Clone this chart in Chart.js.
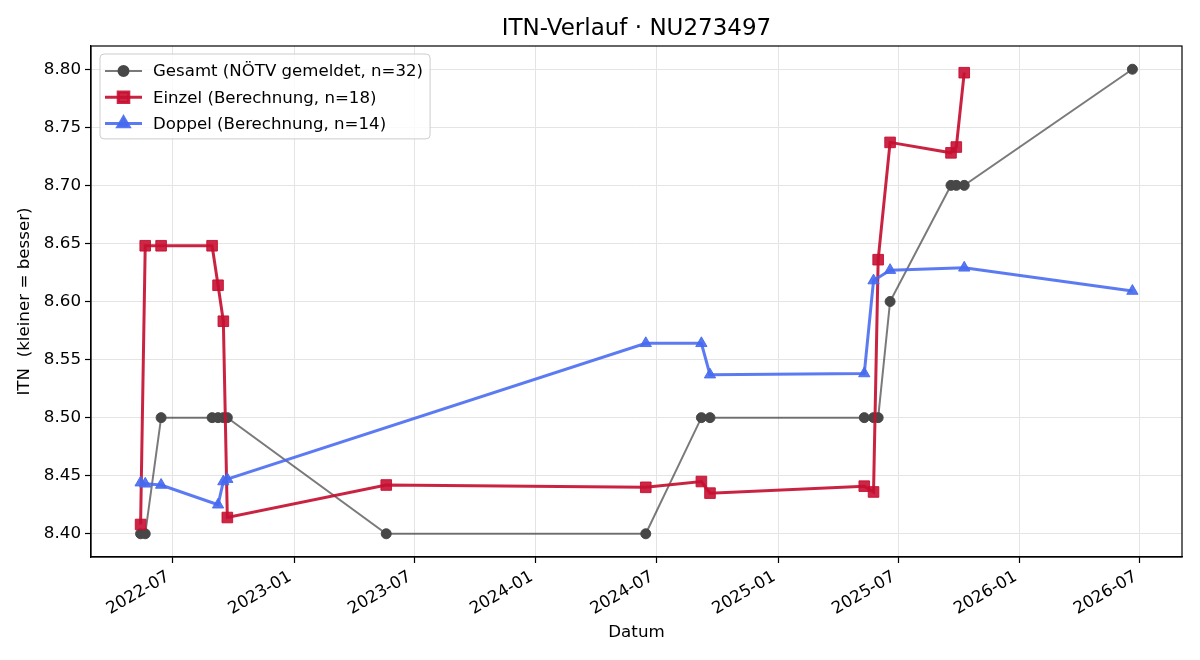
<!DOCTYPE html>
<html>
<head>
<meta charset="utf-8">
<title>ITN-Verlauf · NU273497</title>
<script src="https://cdn.jsdelivr.net/npm/chart.js@4.4.1/dist/chart.umd.min.js"></script>
<style>
  html, body { margin: 0; padding: 0; background: #fff; }
  #wrap { width: 1200px; height: 660px; }
</style>
</head>
<body>
<div id="wrap"><canvas id="itnChart" width="1200" height="660"></canvas></div>
<script>
// Gesamt (NÖTV gemeldet)
const gesamtDates = ['2022-05-14', '2022-05-21', '2022-06-14', '2022-08-30', '2022-09-08', '2022-09-16', '2022-09-22',
  '2023-05-20', '2024-06-15', '2024-09-07', '2024-09-20', '2025-05-11', '2025-05-25', '2025-06-01', '2025-06-19',
  '2025-09-19', '2025-09-27', '2025-10-09', '2026-06-20'];
const gesamtValues = [8.40, 8.40, 8.50, 8.50, 8.50, 8.50, 8.50,
  8.40, 8.40, 8.50, 8.50, 8.50, 8.50, 8.50, 8.60,
  8.70, 8.70, 8.70, 8.80];

// Einzel (Berechnung)
const einzelDates = ['2022-05-14', '2022-05-21', '2022-06-14', '2022-08-30', '2022-09-08', '2022-09-16', '2022-09-22',
  '2023-05-20', '2024-06-15', '2024-09-07', '2024-09-20', '2025-05-11', '2025-05-25', '2025-06-01', '2025-06-19',
  '2025-09-19', '2025-09-27', '2025-10-09'];
const einzelValues = [8.408, 8.648, 8.648, 8.648, 8.614, 8.583, 8.414,
  8.442, 8.440, 8.445, 8.435, 8.441, 8.436, 8.636, 8.737,
  8.728, 8.733, 8.797];

// Doppel (Berechnung)
const doppelDates = ['2022-05-14', '2022-05-21', '2022-06-14', '2022-09-08', '2022-09-16', '2022-09-22',
  '2024-06-15', '2024-09-07', '2024-09-20', '2025-05-11', '2025-05-25', '2025-06-19', '2025-10-09', '2026-06-20'];
const doppelValues = [8.444, 8.443, 8.442, 8.425, 8.445, 8.447,
  8.564, 8.564, 8.537, 8.538, 8.618, 8.627, 8.629, 8.609];

const chartTitle = 'ITN-Verlauf · NU273497';
const seriesLabels = ['Gesamt (NÖTV gemeldet, n=32)', 'Einzel (Berechnung, n=18)', 'Doppel (Berechnung, n=14)'];
const xTickLabels = ['2022-07', '2023-01', '2023-07', '2024-01', '2024-07', '2025-01', '2025-07', '2026-01', '2026-07'];
const yTickValues = [8.40, 8.45, 8.50, 8.55, 8.60, 8.65, 8.70, 8.75, 8.80];

const FONT = "'DejaVu Sans', sans-serif";
Chart.defaults.font.family = FONT;
Chart.defaults.color = '#000';

const toMs = s => Date.parse(s.length === 7 ? s + '-01T00:00:00Z' : s + 'T00:00:00Z');
const pts = (dates, vals) => dates.map((d, i) => ({ x: toMs(d), y: vals[i] }));

// x range like matplotlib autoscale (5% margin)
const allMs = gesamtDates.concat(einzelDates, doppelDates).map(toMs);
const msMin = Math.min(...allMs), msMax = Math.max(...allMs);
const xPad = (msMax - msMin) * 0.05;

// title centred over the axes, not the whole canvas
const axesTitle = {
  id: 'axesTitle',
  afterDraw(chart) {
    const ctx = chart.ctx, ca = chart.chartArea;
    ctx.save();
    ctx.font = '23px ' + FONT;
    ctx.fillStyle = '#000';
    ctx.textAlign = 'center';
    ctx.textBaseline = 'middle';
    ctx.fillText(chartTitle, (ca.left + ca.right) / 2, 29);
    ctx.restore();
  }
};

// legend drawn inside the axes, top left
const innerLegend = {
  id: 'innerLegend',
  afterDraw(chart) {
    const ctx = chart.ctx, ca = chart.chartArea;
    const left = ca.left + 9, top = ca.top + 8;
    const rowH = 26.3;
    ctx.save();
    ctx.font = '16.6px ' + FONT;
    let maxW = 0;
    chart.data.datasets.forEach(ds => { maxW = Math.max(maxW, ctx.measureText(ds.label).width); });
    const w = 53 + maxW + 7, h = rowH * 3 + 6;
    ctx.beginPath();
    ctx.roundRect(left, top, w, h, 4);
    ctx.fillStyle = 'rgba(255,255,255,0.8)';
    ctx.fill();
    ctx.strokeStyle = '#cccccc';
    ctx.lineWidth = 1;
    ctx.stroke();
    chart.data.datasets.forEach((ds, i) => {
      const y = top + 17 + i * rowH;
      ctx.beginPath();
      ctx.moveTo(left + 5, y);
      ctx.lineTo(left + 42, y);
      ctx.strokeStyle = ds.borderColor;
      ctx.lineWidth = ds.borderWidth;
      ctx.stroke();
      ctx.fillStyle = ds.pointBackgroundColor;
      ctx.strokeStyle = ds.pointBorderColor;
      Chart.helpers.drawPoint(ctx, {
        pointStyle: ds.pointStyle, radius: ds.pointRadius, rotation: 0, borderWidth: ds.pointBorderWidth
      }, left + 23.5, y);
      ctx.fillStyle = '#000';
      ctx.textBaseline = 'middle';
      ctx.textAlign = 'left';
      ctx.fillText(ds.label, left + 53, y + 1);
    });
    ctx.restore();
  }
};

// full box around the plot area
const frame = {
  id: 'frame',
  afterDatasetsDraw(chart) {
    const ctx = chart.ctx, ca = chart.chartArea;
    ctx.save();
    ctx.strokeStyle = '#000';
    ctx.lineWidth = 1.2;
    ctx.strokeRect(ca.left, ca.top, ca.right - ca.left, ca.bottom - ca.top);
    ctx.restore();
  }
};

new Chart(document.getElementById('itnChart'), {
  type: 'line',
  data: {
    datasets: [
      {
        label: seriesLabels[0],
        data: pts(gesamtDates, gesamtValues),
        borderColor: 'rgba(0,0,0,0.52)',
        borderWidth: 2,
        pointStyle: 'circle',
        pointRadius: 5,
        pointBackgroundColor: '#474747',
        pointBorderColor: '#474747',
        pointBorderWidth: 1,
        order: 3
      },
      {
        label: seriesLabels[1],
        data: pts(einzelDates, einzelValues),
        borderColor: 'rgba(198,16,50,0.92)',
        borderWidth: 3,
        pointStyle: 'rect',
        pointRadius: 7.5,
        pointBackgroundColor: 'rgba(198,16,50,0.9)',
        pointBorderColor: 'rgba(198,16,50,0.9)',
        pointBorderWidth: 1,
        order: 2
      },
      {
        label: seriesLabels[2],
        data: pts(doppelDates, doppelValues),
        borderColor: 'rgba(70,105,240,0.88)',
        borderWidth: 3,
        pointStyle: 'triangle',
        pointRadius: 6.5,
        pointBackgroundColor: 'rgba(70,105,240,0.9)',
        pointBorderColor: 'rgba(70,105,240,0.9)',
        pointBorderWidth: 1,
        order: 1
      }
    ]
  },
  options: {
    responsive: false,
    devicePixelRatio: 1,
    animation: false,
    layout: { padding: { left: 0, right: 18, top: 46, bottom: 0 } },
    plugins: {
      legend: { display: false },
      title: { display: false }
    },
    scales: {
      x: {
        type: 'linear',
        min: msMin - xPad,
        max: msMax + xPad,
        afterBuildTicks: s => { s.ticks = xTickLabels.map(l => ({ value: toMs(l) })); },
        afterFit: s => { s.height = 103; },
        ticks: {
          callback: (v, i) => xTickLabels[i],
          font: { size: 16.7 },
          minRotation: 30,
          maxRotation: 30,
          autoSkip: false,
          padding: 4,
          labelOffset: -4
        },
        grid: { color: '#e4e4e4', lineWidth: 1, drawTicks: true, tickLength: 6, tickColor: '#000', tickWidth: 1.2 },
        border: { display: true, color: '#000', width: 1.2 },
        title: { display: true, text: 'Datum', font: { size: 16.7 }, padding: { top: 0, bottom: 17 } }
      },
      y: {
        min: 8.38,
        max: 8.82,
        afterBuildTicks: s => { s.ticks = yTickValues.map(v => ({ value: v })); },
        afterFit: s => { s.width = 91; },
        ticks: { callback: v => v.toFixed(2), font: { size: 16.7 }, padding: 4 },
        grid: { color: '#e4e4e4', lineWidth: 1, drawTicks: true, tickLength: 6, tickColor: '#000', tickWidth: 1.2 },
        border: { display: true, color: '#000', width: 1.2 },
        title: { display: true, text: 'ITN  (kleiner = besser)', font: { size: 16.7 }, padding: { top: 15, bottom: 0 } }
      }
    }
  },
  plugins: [frame, axesTitle, innerLegend]
});
</script>
</body>
</html>
